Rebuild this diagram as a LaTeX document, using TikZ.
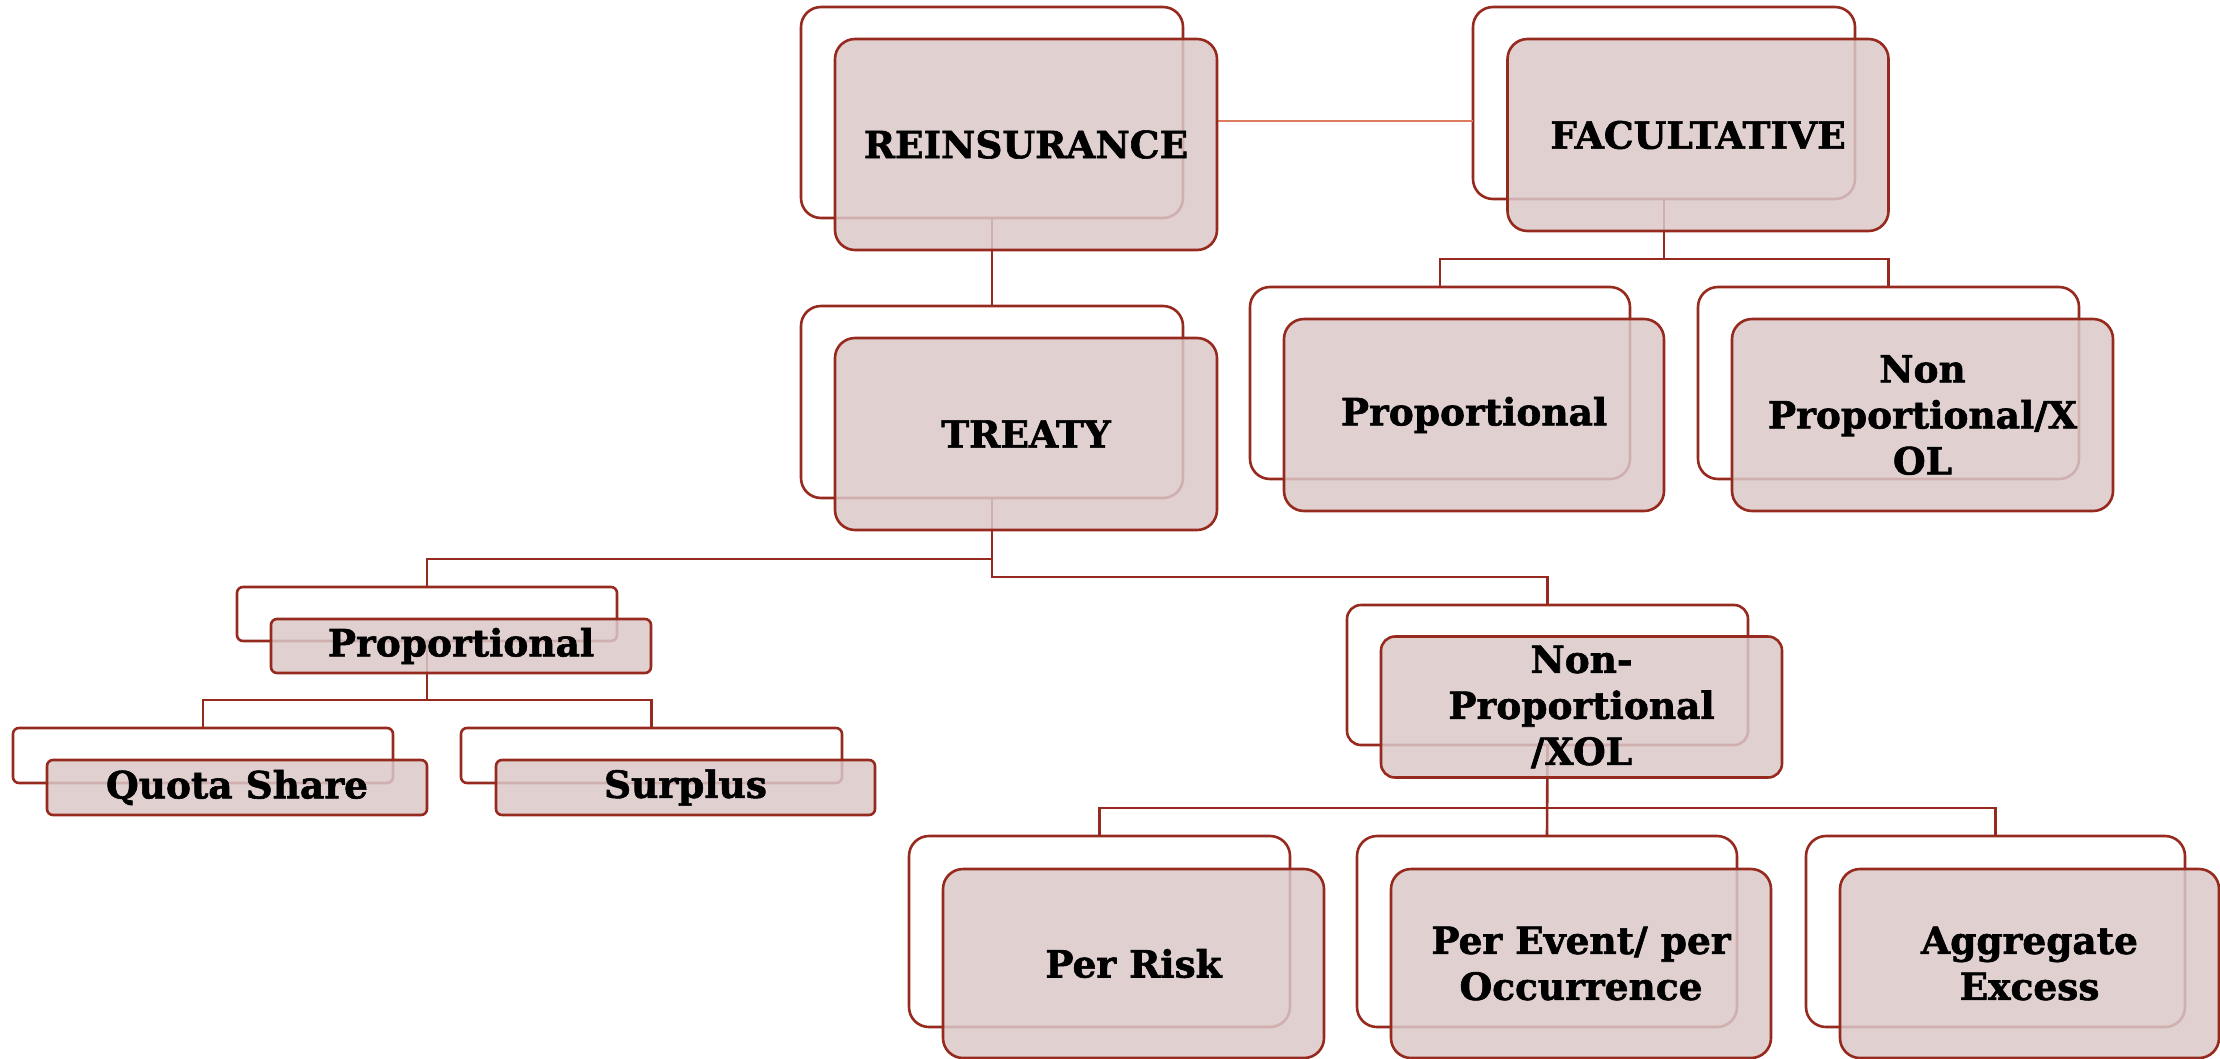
\documentclass[tikz,border=0pt]{standalone}
\usepackage{fontspec}
\setmainfont{DejaVu Serif}
\newfontfamily\heavyslab{DejaVu Serif}[BoldFeatures={FakeBold=1.6}]
\definecolor{edge}{RGB}{150,42,30}
\definecolor{boxfill}{RGB}{218,200,200}
\definecolor{thinlink}{RGB}{222,122,94}

\begin{document}
\begin{tikzpicture}[x=1pt,y=-1pt,
  backbox/.style={draw=edge, line width=2.6pt, rounded corners=#1,
    inner sep=0pt, outer sep=0pt},
  frontbox/.style={draw=edge, line width=2.6pt, rounded corners=#1,
    fill=boxfill, fill opacity=0.85, text opacity=1,
    inner sep=0pt, outer sep=0pt, align=center,
    font=\heavyslab\fontsize{37.5}{46}\selectfont\bfseries},
  link/.style={draw=edge, line width=2.6pt},
  lightlink/.style={draw=thinlink, line width=1.8pt},
  shifted/.style={shift={(34,32)}},
]
\useasboundingbox (0,0) rectangle (2220,1058);

% back frames: left, top, width, height
\newcommand\backframe[6]{%
  \node[backbox=#6, minimum width=#4pt, minimum height=#5pt]
    (#1) at (#2+#4/2, #3+#5/2) {};}
\backframe{reinsB}{801}{7}{382}{211}{20pt}
\backframe{facB}{1473}{7}{382}{192}{20pt}
\backframe{treatyB}{801}{306}{382}{192}{20pt}
\backframe{fpropB}{1250}{287}{380}{192}{20pt}
\backframe{fnpB}{1698}{287}{381}{192}{20pt}
\backframe{tpropB}{237}{587}{380}{54}{6pt}
\backframe{quotaB}{13}{728}{380}{55}{6pt}
\backframe{surplusB}{461}{728}{381}{55}{6pt}
\backframe{tnpB}{1347}{605}{401}{140}{14pt}
\backframe{riskB}{909}{836}{381}{191}{20pt}
\backframe{eventB}{1357}{836}{380}{191}{20pt}
\backframe{aggB}{1806}{836}{379}{191}{20pt}

% connectors
\draw[link] (reinsB.south) -- (treatyB.north);
\coordinate (rfy) at (0,121);
\draw[lightlink] (1217,121) -- (facB.west |- rfy);

\coordinate (facy) at (0,259);
\draw[link] (facB.south) -- (facB.south |- facy);
\draw[link] (fpropB.north) -- (fpropB.north |- facy) -- (fnpB.north |- facy) -- (fnpB.north);

\coordinate (tpy) at (0,559);
\coordinate (tny) at (0,577);
\draw[link] (treatyB.south) -- (treatyB.south |- tny) -- (tnpB.north |- tny) -- (tnpB.north);
\draw[link] (treatyB.south |- tpy) -- (tpropB.north |- tpy) -- (tpropB.north);

\coordinate (qy) at (0,700);
\draw[link] (tpropB.south) -- (tpropB.south |- qy);
\draw[link] (quotaB.north) -- (quotaB.north |- qy) -- (surplusB.north |- qy) -- (surplusB.north);

\coordinate (ny) at (0,808);
\draw[link] (tnpB.south) -- (eventB.north);
\draw[link] (riskB.north) -- (riskB.north |- ny) -- (aggB.north |- ny) -- (aggB.north);

% front boxes carrying the labels
\newcommand\frontbox[6]{%
  \node[frontbox=#5, minimum width=#3pt, minimum height=#4pt]
    (#1) at ([shifted]#2.center) {#6};}
\frontbox{reins}{reinsB}{382}{211}{20pt}{REINSURANCE}
\frontbox{fac}{facB}{381}{192}{20pt}{FACULTATIVE}
\frontbox{treaty}{treatyB}{382}{192}{20pt}{TREATY}
\frontbox{fprop}{fpropB}{380}{192}{20pt}{Proportional}
\frontbox{fnp}{fnpB}{381}{192}{20pt}{Non\\Proportional/X\\OL}
\frontbox{tprop}{tpropB}{380}{54}{6pt}{Proportional}
\frontbox{quota}{quotaB}{380}{55}{6pt}{Quota Share}
\frontbox{surplus}{surplusB}{379}{55}{6pt}{Surplus}
\frontbox{tnp}{tnpB}{401}{141}{14pt}{Non-\\Proportional\\/XOL}
\frontbox{risk}{riskB}{381}{189}{20pt}{Per Risk}
\frontbox{event}{eventB}{380}{189}{20pt}{Per Event/ per\\Occurrence}
\frontbox{agg}{aggB}{379}{189}{20pt}{Aggregate\\Excess}
\end{tikzpicture}
\end{document}
